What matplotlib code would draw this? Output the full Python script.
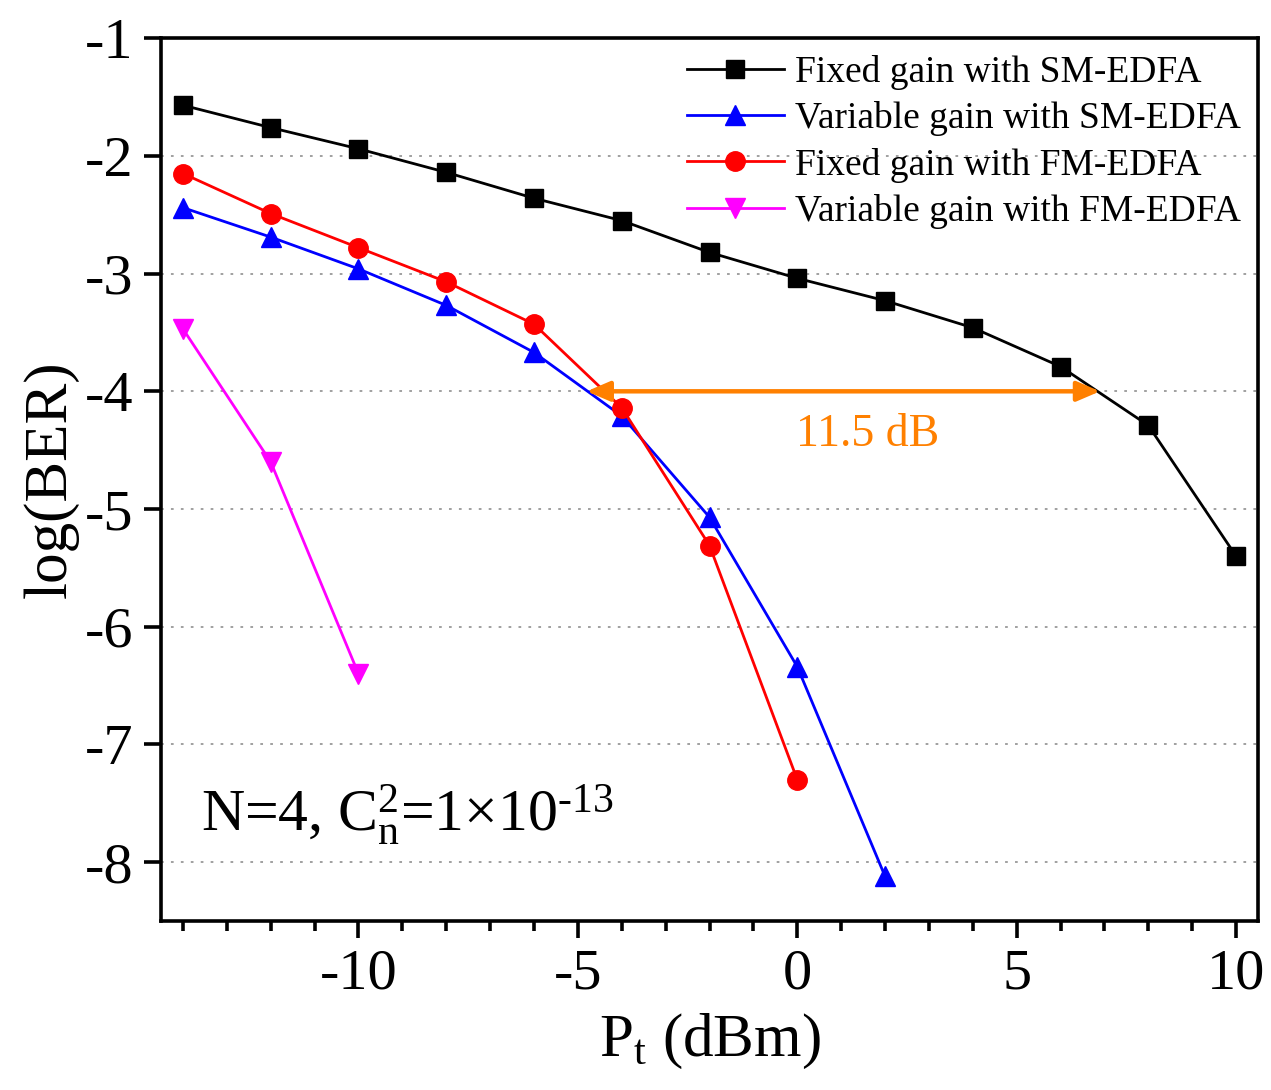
import matplotlib
matplotlib.use("Agg")
from matplotlib import pyplot as plt
from matplotlib.ticker import MultipleLocator

plt.rcParams['font.family'] = ['Liberation Serif', 'DejaVu Serif']
plt.rcParams['mathtext.fontset'] = 'custom'
plt.rcParams['mathtext.rm'] = 'Liberation Serif'
plt.rcParams['mathtext.it'] = 'Liberation Serif'
plt.rcParams['axes.unicode_minus'] = False

# data
pt_fixed_sm = [-14, -12, -10, -8, -6, -4, -2, 0, 2, 4, 6, 8, 10]
ber_fixed_sm = [-1.57, -1.76, -1.94, -2.14, -2.36, -2.55, -2.82, -3.04, -3.23, -3.46, -3.79, -4.29, -5.40]

pt_var_sm = [-14, -12, -10, -8, -6, -4, -2, 0, 2]
ber_var_sm = [-2.44, -2.69, -2.96, -3.27, -3.67, -4.21, -5.07, -6.34, -8.12]

pt_fixed_fm = [-14, -12, -10, -8, -6, -4, -2, 0]
ber_fixed_fm = [-2.15, -2.49, -2.78, -3.07, -3.43, -4.14, -5.31, -7.30]

pt_var_fm = [-14, -12, -10]
ber_var_fm = [-3.47, -4.60, -6.40]

labels = ["Fixed gain with SM-EDFA", "Variable gain with SM-EDFA",
          "Fixed gain with FM-EDFA", "Variable gain with FM-EDFA"]

arrow_x = (-4.8, 6.9)
arrow_y = -4.0

fig = plt.figure(figsize=(12.71, 10.90), dpi=100)
ax = fig.add_axes([0.1267, 0.155, 0.8631, 0.81])

ax.plot(pt_fixed_sm, ber_fixed_sm, color="black", marker="s", markersize=13, linewidth=2, label=labels[0])
ax.plot(pt_var_sm, ber_var_sm, color="blue", marker="^", markersize=15, linewidth=2, label=labels[1])
ax.plot(pt_fixed_fm, ber_fixed_fm, color="red", marker="o", markersize=14, linewidth=2, label=labels[2])
ax.plot(pt_var_fm, ber_var_fm, color="magenta", marker="v", markersize=15, linewidth=2, label=labels[3])

ax.annotate("", xy=(arrow_x[0], arrow_y), xytext=(arrow_x[1], arrow_y),
            arrowprops=dict(arrowstyle="<|-|>,head_length=1.4,head_width=0.6",
                            color="#FF8000", lw=3.2, shrinkA=0, shrinkB=0))
ax.text(1.6, -4.37, "11.5 dB", color="#FF8000", fontsize=33, ha="center", va="center")

ax.text(-13.6, -7.6, r"N=4, $\mathrm{C}_{\mathrm{n}}^{2}$=1×10$^{\text{-13}}$", fontsize=43, ha="left", va="center")

ax.set_xlim(-14.5, 10.5)
ax.set_ylim(-8.5, -1)
ax.xaxis.set_major_locator(MultipleLocator(5))
ax.xaxis.set_minor_locator(MultipleLocator(1))
ax.yaxis.set_major_locator(MultipleLocator(1))

for yv in range(-8, -1):
    ax.axhline(yv, color="#999999", linestyle=(0, (1.5, 4)), linewidth=1.3, zorder=0)

for s in ax.spines.values():
    s.set_linewidth(2.6)
ax.tick_params(axis="both", which="major", direction="out", length=12, width=2.6, labelsize=42, pad=8)
ax.tick_params(axis="x", which="minor", direction="out", length=7, width=2.6)
ax.tick_params(top=False, right=False)

ax.set_xlabel(r"$\mathrm{P_t}$ (dBm)", fontsize=44, labelpad=8)
ax.set_ylabel("log(BER)", fontsize=44, labelpad=4)

ax.legend(loc="upper right", frameon=False, fontsize=27, handlelength=2.6,
          borderaxespad=0.05, labelspacing=0.3, handletextpad=0.3, markerscale=1.0)

fig.savefig("out.png", dpi=100)
